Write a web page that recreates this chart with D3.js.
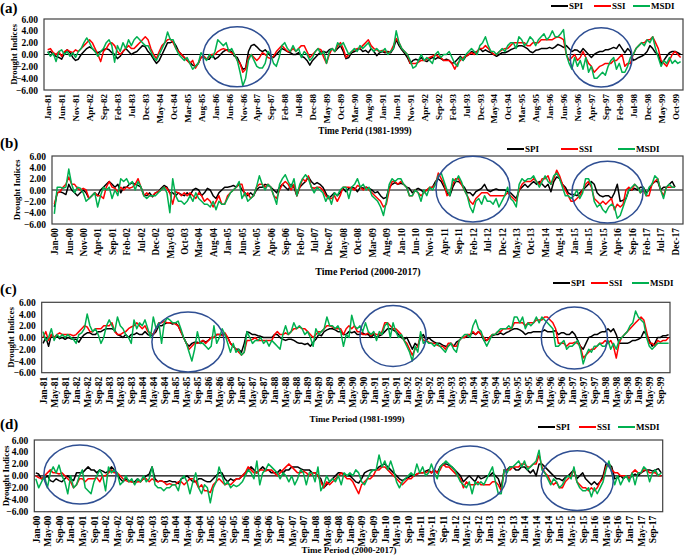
<!DOCTYPE html>
<html><head><meta charset="utf-8">
<script src="https://cdn.jsdelivr.net/npm/d3@7"></script>
<style>body{margin:0;background:#fff}svg{display:block;font-family:"Liberation Serif","Times New Roman",serif;font-weight:bold}</style>
</head><body><svg id="chart" width="685" height="556"></svg>
<script>
// ---------- categories ----------
const monthsAC = d3.timeMonths(new Date(1981,0,1), new Date(2000,0,1)); // Jan-81 .. Dec-99
const monthsBD = d3.timeMonths(new Date(2000,0,1), new Date(2018,0,1)); // Jan-00 .. Dec-17
const yTickValues = [6,4,2,0,-2,-4,-6];
const seriesNames = ["SPI","SSI","MSDI"];
const seriesColors = ["#000000","#ff0000","#00b050"];
const panelLabels = ["(a)","(b)","(c)","(d)"];
const axisTitles = ["Time Perid (1981-1999)","Time Period (2000-2017)","Time Period (1981-1999)","Time Period (2000-2017)"];

// ---------- panel (a) 1981-1999 ----------
const aSPI = [
0.3,0.5,0.0,-0.3,-0.5,-0.8,0.2,0.8,0.3,-0.5,-1.0,-0.8,
0.0,0.5,1.0,1.3,1.0,0.5,0.3,0.5,0.8,1.0,0.8,0.3,
0.0,-0.7,-0.3,0.5,1.0,0.5,0.0,0.3,0.5,1.0,1.5,1.3,
0.5,0.0,-0.8,-1.5,-1.0,0.0,1.0,2.0,2.0,2.2,1.5,0.5,
0.0,-0.5,-1.0,-1.3,-1.8,-2.0,-1.5,-0.5,-0.3,-0.8,-0.8,0.0,
-0.8,-0.5,0.0,0.5,0.8,0.8,0.5,-0.3,-0.5,-1.5,-2.5,-2.3,
0.5,1.5,1.7,1.3,0.8,0.5,0.8,0.3,-0.3,-0.5,0.0,0.5,
1.0,0.8,0.5,0.3,0.0,0.0,0.3,-0.3,-0.5,-1.0,-1.8,-1.0,
-0.5,0.0,0.5,0.5,0.3,0.8,1.0,0.5,1.0,1.5,0.5,-0.7,
-0.5,0.3,0.5,0.8,1.0,0.5,0.7,0.3,1.0,0.5,-0.2,0.3,
0.5,0.3,0.5,0.3,1.0,2.5,1.5,0.8,0.2,-0.5,-1.5,-1.0,
-0.8,-1.0,-0.5,-1.0,-1.2,-0.8,-0.5,-0.8,-0.5,-0.7,-1.0,-0.8,
-1.0,-1.5,-1.3,-0.8,-0.3,-1.0,-0.3,0.0,0.5,0.3,0.5,1.0,
0.5,0.8,0.5,0.3,0.0,-0.3,0.0,0.3,0.3,0.5,0.8,1.0,
1.2,1.5,1.5,1.3,1.0,0.5,0.3,0.7,0.8,1.0,1.0,1.0,
1.2,1.0,1.3,1.7,1.5,1.2,1.5,1.0,0.5,0.8,0.7,0.3,
1.0,0.5,0.0,-0.5,0.0,0.3,0.5,0.5,0.8,0.8,1.0,1.2,
1.0,1.7,1.0,0.3,1.0,0.5,-1.0,-0.8,-0.5,-0.3,0.0,0.5,
1.5,1.0,0.3,0.0,-1.5,-1.0,-0.3,0.3,0.5,0.5,0.3,0.0];
const aSSI = [
0.8,1.0,0.3,0.0,0.5,-0.3,0.5,0.8,0.5,0.3,0.8,0.5,
1.0,1.5,2.0,2.5,2.0,1.0,0.0,-1.2,0.5,1.0,1.8,2.0,
1.5,0.5,0.0,0.5,1.0,1.5,1.0,1.0,1.5,2.0,2.5,3.0,
2.5,1.0,0.0,-0.7,0.5,1.5,2.0,2.5,2.6,2.0,1.0,0.5,
0.0,-0.5,-1.0,-1.5,-1.0,-2.3,-1.5,-0.5,-0.3,-0.8,-0.3,0.0,
0.0,0.5,0.8,1.0,0.8,0.5,0.3,0.0,-1.0,-1.5,-3.0,-2.5,
-0.5,0.0,-0.5,-1.0,-0.5,0.3,0.0,-0.5,-0.7,-0.3,0.5,1.0,
1.5,1.0,0.5,0.5,1.0,0.5,1.0,1.5,1.5,0.5,-0.5,0.0,
0.5,1.0,0.8,-0.5,-1.5,0.0,1.0,0.5,1.5,2.0,1.0,-0.5,
0.0,0.5,0.8,1.0,1.0,1.5,2.0,2.5,1.5,1.0,0.8,0.5,
0.7,0.5,0.3,0.5,1.5,2.7,2.0,1.0,0.5,0.0,-1.5,-1.5,
-1.5,-1.3,-1.0,-1.0,-0.8,-0.5,-0.3,0.0,-0.3,-0.5,-1.0,-1.0,
-1.0,-1.5,-2.5,-1.5,-1.0,-0.5,-0.3,0.0,0.3,0.0,0.5,1.0,
1.0,1.5,1.0,0.5,0.0,0.0,0.5,0.8,1.0,1.0,1.5,2.0,
2.0,2.0,2.0,2.0,1.5,1.5,2.0,2.0,2.0,2.5,2.5,2.5,
2.5,2.5,2.8,3.0,2.8,2.5,0.0,-1.0,-0.5,0.0,-1.0,-0.5,
0.5,-0.5,-1.5,-2.0,-3.0,-2.5,-2.0,-1.8,-1.5,-1.5,-1.5,-1.0,
-1.0,-0.5,0.0,-2.0,-1.5,-1.5,0.0,1.0,1.5,2.0,2.0,2.5,
2.5,3.0,2.0,1.0,-1.0,-1.5,-2.0,-1.0,0.0,0.5,0.0,-0.5];
const aMSDI = [
0.5,-0.3,0.2,-1.2,0.5,0.8,0.0,0.5,-0.3,0.3,-0.5,0.5,
1.0,2.0,2.8,2.0,1.0,0.5,-0.3,0.5,1.0,2.0,2.5,1.5,
-1.3,1.5,0.5,2.0,1.0,2.5,1.5,2.5,3.0,2.5,2.0,1.5,
1.5,0.5,-0.5,-1.0,0.0,1.0,2.0,3.8,2.5,2.5,1.0,0.0,
-0.5,-1.0,-0.5,-1.5,-2.5,-2.0,-1.5,0.3,-0.5,-1.0,0.0,-0.5,
0.5,2.5,2.0,1.5,2.0,0.5,1.0,0.0,-1.0,-3.0,-5.3,-4.0,
-1.0,0.0,-1.0,-2.0,-2.3,-2.3,-1.5,0.5,0.0,-1.5,-2.0,-0.5,
1.5,2.0,1.0,0.5,1.5,0.5,1.0,-0.5,0.5,0.0,-1.0,-0.5,
0.5,1.0,0.0,0.5,-1.5,0.5,1.0,0.5,2.0,1.5,2.0,1.0,
0.0,0.5,1.0,0.5,1.5,1.0,1.5,2.0,1.0,0.5,1.0,0.5,
0.5,1.0,0.0,0.5,1.0,4.0,2.0,1.0,0.5,0.0,-1.0,-2.3,
-2.0,-1.0,0.0,-1.0,-0.5,-1.0,-1.5,0.0,0.5,-0.5,0.0,0.0,
0.5,-0.5,-1.5,-2.0,-0.5,-1.0,0.0,0.5,1.0,0.5,0.0,1.5,
2.0,3.0,1.5,0.5,0.5,0.0,0.5,1.0,0.5,1.5,2.0,2.0,
1.0,3.0,2.5,1.5,2.0,3.0,2.5,1.5,2.5,3.0,3.5,2.5,
3.0,4.0,3.0,3.0,3.5,4.2,0.0,-1.5,-2.5,-0.5,-2.0,-1.0,
-2.5,-0.5,-3.0,-2.0,-4.0,-4.0,-3.5,-3.0,-3.5,-2.0,-1.0,-0.5,
-2.5,-1.5,-3.0,-3.0,-2.0,-0.5,0.0,1.0,1.5,2.0,1.5,2.5,
2.0,3.0,1.0,-0.5,-2.0,-1.0,-1.5,-0.5,-1.5,-1.0,-1.5,-1.2];

// ---------- panel (b) 2000-2017 ----------
const bSPI = [
-3.0,-0.5,-0.3,-0.5,-0.8,1.0,0.0,-0.5,-1.0,-0.5,0.0,-0.5,
-1.5,-1.0,-0.5,-1.0,0.0,0.5,1.0,1.5,1.0,0.5,1.0,-0.5,
0.5,0.5,1.0,1.3,1.0,0.8,0.5,-0.8,-1.0,-0.5,-1.2,-0.5,
-0.3,0.3,0.8,0.5,-0.5,-0.5,-1.0,-0.5,-0.8,-1.0,-0.5,-1.0,
0.0,0.3,0.0,-1.0,-0.5,0.3,0.0,-1.0,-1.5,-0.5,0.0,0.5,
0.5,0.6,0.8,0.5,1.0,0.0,-0.5,-1.0,-0.5,-1.0,0.0,0.5,
0.5,1.0,0.8,0.5,0.0,-0.5,0.5,1.0,0.5,0.0,1.0,0.5,
-1.0,0.5,1.0,1.5,2.3,1.5,1.0,1.3,1.0,0.5,-0.5,-1.5,
-1.0,-0.5,-1.0,-0.5,0.3,-0.3,0.3,0.5,0.3,-0.3,0.5,0.3,
0.5,0.3,0.0,-0.5,-0.3,-1.0,-1.5,-1.3,0.5,1.0,1.3,1.0,
1.2,1.0,0.5,0.3,-0.5,0.0,0.3,0.0,-0.5,0.0,0.3,0.5,
1.5,2.0,1.5,0.5,-0.5,-1.0,0.5,1.5,1.5,1.0,0.5,-0.5,
-0.5,-1.0,-0.3,0.0,0.3,1.0,0.0,-0.3,0.0,0.2,0.0,0.0,
0.0,-0.3,-0.5,-1.0,-1.5,0.0,0.5,1.0,0.5,1.0,1.5,1.0,
1.5,1.0,0.5,1.0,-0.3,1.5,2.3,2.0,1.0,0.5,-0.5,-0.8,
-0.8,-1.0,-0.5,0.0,0.5,1.0,1.5,1.0,-0.5,-1.0,-1.2,-1.0,
-1.0,-1.5,-0.5,1.0,-2.0,-1.8,-1.5,0.0,0.0,0.3,0.0,0.5,
0.5,-0.5,0.0,1.0,1.5,1.5,0.0,0.5,0.5,1.0,1.5,0.5];
const bSSI = [
-2.5,-0.5,-0.3,0.5,1.0,2.3,1.0,1.0,0.3,0.0,0.3,0.0,
-1.5,-1.0,-0.5,-1.0,-1.0,-1.5,0.5,1.5,0.5,0.3,-0.3,0.5,
0.0,0.5,0.3,0.5,1.0,2.0,0.5,-1.0,-0.5,-1.0,-1.0,-0.5,
-0.3,0.0,0.5,0.3,-0.5,-2.5,-0.3,-0.5,-1.0,-0.5,-1.0,-0.5,
-1.0,-1.5,-0.5,-1.0,-2.0,-1.5,-2.0,-3.0,-2.0,-1.0,-2.5,-2.5,
-1.0,-0.5,0.0,0.5,1.0,1.0,-1.0,-0.5,-1.5,-1.0,0.5,1.0,
1.0,0.5,1.0,0.5,-1.0,-1.5,0.0,1.0,1.5,1.0,0.0,1.0,
-1.0,0.5,2.0,1.5,2.5,0.5,0.3,0.5,0.5,0.0,-1.0,-1.5,
-1.5,-1.0,-2.0,-1.0,0.5,0.5,0.5,0.3,0.0,0.8,0.5,0.0,
0.5,0.0,-0.5,-1.0,-1.5,-2.0,-3.0,-2.5,0.0,1.5,1.5,1.0,
1.5,1.0,0.5,-1.0,-1.0,0.0,-0.5,-1.0,-0.5,0.0,0.5,0.5,
1.0,3.0,2.0,1.0,-1.0,-0.5,1.0,2.0,2.0,1.0,0.0,-1.0,
-2.0,-2.5,-1.5,-1.0,-0.5,-0.5,-0.5,-1.0,-1.0,-1.0,-1.0,-1.0,
-1.0,-0.5,-1.0,-1.5,-2.0,0.0,1.0,1.5,1.5,1.5,2.0,1.5,
1.0,2.0,2.0,2.5,1.0,2.0,3.5,2.5,1.0,0.0,-1.0,-2.0,
-2.0,-1.5,-1.0,0.0,1.0,1.5,0.5,-1.5,-2.0,-2.5,-2.0,-2.5,
-2.0,-1.5,-3.5,-2.5,-3.0,-2.5,0.0,0.5,0.0,1.0,0.5,-0.5,
0.0,-1.0,-1.0,1.0,1.5,2.0,0.0,-1.0,0.5,0.5,0.5,0.5];
const bMSDI = [
-4.2,0.5,0.5,0.3,0.5,3.7,1.0,-0.5,0.5,0.3,-0.5,-2.0,
-1.5,-1.0,-0.5,-3.0,-1.0,0.5,0.0,0.5,-1.5,0.0,-1.0,2.0,
1.5,2.0,1.0,1.5,0.0,1.5,0.5,-1.0,-1.5,-1.0,-1.0,-1.0,
-0.5,0.0,0.5,-0.5,-4.0,2.0,-1.0,-2.0,-2.0,-2.5,-2.0,-1.0,
-2.0,-0.5,-1.5,-2.0,-2.5,-2.5,-3.0,-2.0,-3.5,-2.0,-2.5,-2.5,
-1.5,-0.5,0.0,0.5,1.5,-1.5,-0.5,-2.0,-1.5,-1.0,0.5,2.5,
1.0,0.0,1.0,0.5,-1.0,-2.5,1.0,2.0,2.7,1.5,0.5,2.0,
-1.0,1.0,2.0,2.7,2.0,0.5,-0.5,0.5,0.0,-0.5,-2.0,-1.0,
-2.5,-0.5,-1.0,0.0,0.5,0.5,-1.5,0.5,1.0,2.0,0.5,1.0,
0.0,0.5,-1.0,-1.5,-2.0,-3.0,-4.5,-2.0,1.0,2.0,1.5,2.0,
2.0,1.0,0.5,-1.0,-1.0,0.0,-0.5,-2.0,0.0,-1.0,0.5,0.0,
1.0,2.5,3.0,1.5,0.0,-1.0,2.0,1.5,2.5,1.5,0.0,-1.0,
-3.0,-4.0,-2.0,-1.5,-2.5,-1.0,-2.0,-2.0,-2.5,-1.5,-3.0,-2.0,
-1.0,0.5,-1.5,-2.0,-3.0,1.0,2.0,1.5,2.0,2.0,2.5,1.5,
0.5,1.5,2.5,1.5,1.0,2.5,3.0,2.0,0.5,-1.0,-1.0,-1.5,
-1.0,0.0,-1.5,-0.5,2.0,2.0,1.0,-2.0,-3.0,-2.5,-3.5,-4.0,
-3.0,-2.5,-3.0,-5.0,-4.5,-3.0,-1.5,0.0,0.5,1.0,0.5,-0.5,
0.5,-1.0,0.5,1.0,2.5,2.0,0.0,-1.5,0.5,1.0,0.5,0.5];

// ---------- panel (c) 1981-1999 ----------
const cSPI = [
-1.0,0.0,-1.5,0.5,0.0,0.3,-0.2,0.0,-0.3,0.0,-0.2,-0.3,
-0.3,-0.8,0.0,0.5,0.8,0.8,0.5,0.5,1.0,1.0,1.3,1.5,
1.5,1.5,1.2,0.5,0.3,0.0,0.5,0.0,0.5,0.5,0.8,0.5,
0.5,1.0,0.5,0.3,0.5,1.0,2.0,2.0,2.3,2.5,2.5,2.3,
2.5,2.0,1.0,0.0,-1.0,-1.5,-1.0,-0.8,-0.8,-1.0,-0.5,-0.8,
-0.5,0.0,0.0,0.5,0.5,0.5,0.5,0.0,-1.0,-1.5,-2.0,-2.0,
-2.5,-1.0,1.0,0.8,0.5,0.5,0.3,0.2,0.0,0.0,0.0,0.0,
0.5,0.5,0.0,-0.3,-0.5,-0.3,-0.3,-0.5,-0.8,-1.0,-1.0,-1.2,
-1.0,-1.5,-0.8,-0.3,0.5,0.3,1.0,1.3,1.5,1.5,1.3,1.0,
1.0,0.5,0.5,1.0,0.8,1.0,0.5,0.5,0.8,0.5,0.5,0.0,
0.5,0.0,0.3,0.5,1.0,1.5,1.5,1.3,1.0,0.5,0.0,-0.3,
0.0,-1.0,-2.0,-1.0,-1.5,0.0,0.5,-0.5,0.0,-0.5,-0.8,-1.0,
-1.0,-1.3,-1.5,-1.5,-1.0,-1.5,-0.8,-0.5,0.0,0.0,0.3,0.5,
0.8,0.5,1.0,0.5,-0.5,-0.5,0.0,0.3,0.5,0.5,0.8,0.5,
0.8,1.0,1.3,1.5,1.5,1.3,1.0,0.5,0.8,0.8,1.0,1.0,
1.0,1.0,1.3,1.0,1.0,1.0,1.2,0.5,0.8,0.8,0.5,0.5,
1.0,0.5,-0.5,-1.5,-2.0,-1.0,0.0,0.2,0.5,0.5,0.8,1.0,
1.0,1.5,1.0,1.5,0.5,-1.0,-1.0,-1.0,-1.0,-0.8,-0.5,-0.5,
-0.3,0.0,1.0,0.5,-0.5,-1.5,-1.0,0.0,0.0,0.3,0.3,0.5];
const cSSI = [
0.0,1.0,-0.5,0.5,0.0,0.5,0.8,0.5,0.5,0.5,0.5,0.3,
0.5,1.0,1.5,2.0,1.8,1.0,1.0,1.5,1.5,1.5,2.0,2.0,
2.0,2.5,1.0,0.5,0.5,0.8,1.0,1.5,1.8,2.0,2.5,2.0,
1.5,2.0,1.0,0.8,0.5,1.5,2.5,2.5,2.8,2.5,2.5,2.5,
2.3,2.0,1.0,0.0,-1.0,-2.0,-1.5,-1.0,-1.0,-0.8,-0.5,-1.0,
-0.5,0.0,0.0,0.5,0.5,0.3,0.8,0.0,-1.0,-1.5,-2.0,-2.5,
-3.0,-2.5,-0.5,-0.5,-0.3,0.0,-0.5,-0.5,-0.5,-0.5,-0.5,-0.5,
0.5,1.0,0.5,0.5,0.8,0.5,1.0,1.5,1.5,1.8,1.5,1.5,
1.0,0.5,0.0,0.5,1.0,1.0,1.5,2.0,2.0,1.8,1.5,1.5,
1.5,0.5,1.5,2.0,1.5,2.0,1.0,1.0,0.5,0.5,0.8,0.3,
0.8,0.5,0.5,1.0,2.5,2.5,2.0,1.5,1.5,1.0,0.5,-0.5,
-1.0,-2.0,-3.0,-2.0,-1.5,0.5,-0.5,-0.5,-0.8,-1.0,-1.0,-1.3,
-1.5,-1.5,-2.0,-1.0,-1.0,-1.5,-1.5,-0.5,0.0,0.0,0.5,0.5,
1.0,0.5,1.0,0.5,0.0,-0.5,0.0,0.5,0.5,1.0,1.0,1.5,
1.5,1.5,1.5,2.5,2.5,2.5,2.5,2.0,2.5,2.5,2.5,3.0,
3.0,3.0,3.5,3.5,3.0,2.5,1.5,-1.0,-1.0,-1.0,-1.5,-1.0,
-1.0,-0.8,-1.0,-1.5,-3.5,-3.0,-2.5,-2.0,-2.0,-1.5,-1.0,-1.0,
-0.5,-1.0,-0.5,-1.5,-3.5,-1.0,0.0,0.5,1.0,1.5,2.0,2.5,
3.0,3.5,3.0,1.0,-1.0,-1.0,-1.5,-0.5,-0.8,-0.5,-0.5,0.0];
const cMSDI = [
1.0,-0.5,0.0,1.5,-0.5,0.5,0.0,0.5,0.0,0.5,0.0,-0.3,
-1.0,0.5,0.8,1.5,4.0,2.0,1.0,1.5,0.5,-1.0,0.0,2.0,
3.0,2.0,1.0,3.5,2.0,1.5,0.5,0.0,-1.0,3.0,1.5,2.5,
2.0,3.0,1.5,0.0,3.5,1.5,2.5,-1.0,2.5,3.3,3.0,2.5,
2.5,2.8,1.5,0.0,-1.0,-2.5,-4.0,-2.0,1.0,-1.0,-1.0,-1.5,
-2.0,-1.5,2.0,-1.0,0.0,1.5,0.5,-1.0,-2.5,-1.0,-2.5,-2.0,
-3.0,-2.5,1.0,0.0,-1.0,-0.5,-0.5,0.0,-1.0,-0.5,-1.5,-0.5,
-1.0,-1.5,-2.0,0.5,2.0,0.5,1.0,2.5,1.5,2.0,1.5,0.5,
1.0,0.0,-1.5,1.5,0.5,1.0,1.5,3.5,2.0,2.0,1.5,2.0,
1.0,-1.5,0.5,0.0,3.8,2.0,1.5,2.0,1.0,2.5,1.0,0.5,
1.0,-0.5,1.0,0.5,2.0,2.5,0.0,2.5,1.0,0.0,0.5,-0.5,
-1.5,-2.5,-4.0,-1.5,-2.5,1.0,-1.0,-0.5,-1.0,-1.0,-1.5,-1.0,
-1.5,-2.0,-2.5,-1.5,-1.0,-2.0,-2.5,-0.5,0.0,0.5,0.5,0.0,
2.0,3.0,1.5,1.0,-0.5,-1.5,-0.5,0.5,0.5,1.0,1.5,1.5,
1.5,2.0,1.5,3.5,3.5,2.5,3.5,1.5,2.5,2.0,2.5,3.5,
2.5,3.5,3.0,2.5,2.0,1.5,-1.5,-1.5,-1.0,-0.5,-2.0,-1.5,
-1.5,-1.0,-0.5,-2.0,-4.5,-3.0,-2.0,-2.5,-1.5,-1.5,-1.0,-1.5,
-1.5,-0.5,-2.0,-1.0,-2.0,-0.5,0.0,0.5,1.0,2.0,2.5,4.5,
3.5,3.0,2.5,0.0,-1.5,-2.0,-1.5,-1.0,-1.0,-1.0,-1.0,-1.0];

// ---------- panel (d) 2000-2017 ----------
const dSPI = [
0.5,0.3,-0.5,-0.5,0.0,-0.8,-1.0,-0.5,-0.8,-1.0,-0.5,0.0,
-0.5,-0.8,0.5,0.5,0.5,1.0,1.5,1.0,1.0,0.5,1.0,0.8,
0.5,0.8,1.5,1.0,0.3,-0.5,-1.0,-0.5,-0.8,-1.0,-1.0,-0.5,
-1.0,-0.5,0.0,0.3,1.5,-0.5,-1.0,-0.8,-1.0,-1.0,-0.8,-1.0,
-1.0,-1.3,-0.5,-0.3,0.0,-0.5,-1.0,-1.0,-0.5,-0.5,-0.8,-1.0,
-1.0,-0.5,0.0,0.5,0.5,-0.5,-1.0,-0.5,-0.8,-0.5,-0.5,0.0,
0.5,1.0,1.5,1.0,0.5,1.0,1.5,1.0,1.0,0.5,0.5,0.5,
1.0,0.5,1.0,1.0,1.5,1.5,1.5,1.2,1.0,1.0,1.0,0.5,
0.5,0.0,-0.5,-2.0,-1.5,-1.0,-0.5,0.0,0.5,0.5,0.3,0.0,
0.0,-0.5,-1.0,-1.2,-0.5,0.5,0.8,1.0,1.0,1.0,1.5,1.8,
2.0,1.5,1.0,0.5,0.0,-0.5,-0.8,-0.5,-0.3,0.0,0.0,0.3,
0.5,0.5,0.8,1.0,0.5,1.0,0.5,1.5,2.0,2.0,1.8,1.5,
1.0,0.5,0.0,-1.0,-0.5,0.0,-0.5,-1.0,0.0,-0.5,-0.3,0.0,
0.0,0.5,0.0,-0.5,-2.0,1.0,1.0,1.5,1.5,1.0,1.0,1.5,
1.5,1.0,0.5,1.0,0.0,2.0,2.0,1.5,1.0,0.5,0.0,-0.5,
-0.5,-0.8,-0.3,0.0,0.5,1.0,-0.5,0.0,0.5,-0.5,-1.0,-1.5,
-1.0,-1.5,-1.0,0.0,2.0,2.0,1.5,-0.5,-0.3,0.0,-0.5,0.0,
-0.5,0.0,0.3,0.0,0.5,0.8,1.0,1.0,0.8,1.0,1.2,0.5];
const dSSI = [
0.0,-0.3,-0.5,0.0,0.5,1.0,0.5,0.5,0.3,0.5,0.0,-0.5,
-1.0,-2.0,-1.5,-0.5,-0.5,-1.0,-0.5,-0.5,-0.5,-0.3,-1.0,0.0,
0.0,0.5,1.0,0.5,0.5,0.0,-0.5,-0.8,-1.0,-1.0,-1.2,-1.0,
-1.0,-0.5,-0.5,-1.0,-0.5,-0.8,-1.0,-0.8,-1.0,-1.5,-1.3,-1.5,
-1.5,-1.0,-1.0,-1.5,-1.0,-0.5,-0.5,-1.0,-2.0,-1.5,-2.5,-2.5,
-2.8,-1.5,-1.0,-0.5,-1.0,-1.5,-1.3,-1.5,-1.0,-0.5,-0.5,0.0,
0.5,1.5,1.0,0.5,0.5,1.0,1.0,0.8,1.0,1.0,0.5,0.0,
0.5,1.0,1.5,2.0,1.5,1.0,0.5,0.5,0.8,0.5,0.0,0.5,
0.5,0.0,-1.0,-2.0,-1.0,-1.5,-1.0,-0.5,0.0,0.5,0.0,-0.5,
-0.5,-1.0,-2.0,-3.0,-1.5,-1.0,-0.5,-0.5,0.0,1.0,1.0,1.5,
1.5,1.0,0.5,0.0,-0.5,-1.0,-1.5,-1.0,-0.5,-0.5,0.0,0.3,
0.5,0.5,0.5,0.8,0.5,1.0,0.5,1.0,2.0,1.5,1.5,1.0,
0.5,0.0,-0.5,-2.0,-1.0,-1.5,-1.5,-1.5,-1.0,-1.5,-1.5,-1.5,
-1.5,-1.0,-1.0,-1.5,-2.5,1.0,1.0,1.0,1.5,1.5,1.5,2.0,
2.0,1.5,1.5,2.0,2.0,3.5,1.5,0.5,0.0,-1.0,-1.5,-1.0,
-2.0,-2.0,-1.0,-0.5,0.0,1.0,-1.0,-1.5,-2.0,-2.0,-2.5,-2.0,
-2.5,-2.0,-1.0,-0.5,1.5,2.0,1.0,0.5,0.5,0.0,0.0,0.0,
-0.5,0.5,1.0,0.5,0.5,1.0,1.0,0.5,0.5,0.5,0.0,0.0];
const dMSDI = [
-0.5,-2.0,-1.0,0.0,-2.0,0.5,1.5,0.5,1.8,0.0,-1.0,-3.0,
0.0,-2.0,-1.5,0.0,1.0,-2.0,-2.5,-3.0,-1.0,0.0,1.0,0.0,
-2.5,1.5,0.5,1.0,0.5,-1.5,-1.0,0.0,-1.0,-0.5,-1.5,-0.5,
-1.0,0.0,-1.0,-0.5,1.5,-1.5,-2.0,-2.0,-2.5,-2.0,-2.0,-1.5,
-1.5,-2.5,-0.5,0.0,-1.0,-3.0,-1.0,0.5,-2.0,-3.0,-1.5,-2.0,
-4.5,-2.0,-1.0,1.5,0.0,-1.5,-1.0,-2.0,-1.5,-1.8,-1.5,-1.0,
0.0,1.0,0.5,-0.5,2.5,-1.5,0.5,1.0,2.0,1.5,1.0,0.5,
-0.5,0.5,0.0,-1.0,0.0,-1.5,-0.5,1.0,0.5,-1.5,0.5,0.5,
-1.0,1.5,-2.5,-1.5,0.0,-1.0,-0.5,-1.0,0.0,-1.5,0.5,0.0,
0.5,0.0,1.0,0.5,-1.0,-1.5,-0.5,0.5,1.0,1.0,3.5,1.5,
2.5,1.0,2.5,1.0,-1.0,-2.0,-1.0,-0.5,0.0,0.5,0.0,2.0,
0.5,1.5,0.0,0.5,2.0,0.5,-0.5,1.5,2.0,2.5,2.0,1.5,
1.0,0.0,-1.0,-1.5,-2.0,-1.0,-3.0,-1.0,-1.5,-1.0,-1.5,-0.5,
0.5,1.5,-1.0,-3.0,-3.0,1.0,0.5,1.5,1.5,2.0,2.5,1.5,
2.5,1.0,1.5,2.0,2.5,4.3,1.0,0.5,-0.5,-1.5,-0.5,-1.0,
-2.0,-1.5,-0.5,0.0,-0.5,1.5,-1.0,-2.0,-2.5,-2.5,-2.0,-3.5,
-2.0,-3.0,-2.0,-1.0,1.0,2.5,0.5,-1.5,0.0,-1.5,-0.5,0.0,
-1.0,0.5,-1.5,0.5,0.5,1.5,1.0,-1.0,0.5,1.0,0.0,0.5];

// ellipse annotations in data units: [centre month index, centre value, radius in months, radius in index units]
const aEllipses = [[67.9,-0.4,12.2,5.07],[198.5,-0.5,11.1,5.0]];
const bEllipses = [[145,0.15,12.8,5.8],[191.6,-0.38,12.3,5.45]];
const cEllipses = [[52.6,-0.77,13.1,5.1],[127,0.26,12.0,5.2],[192.8,-0.09,12.0,5.3]];
const dEllipses = [[15.2,0.23,12.4,4.94],[149.3,0.06,12.5,4.94],[186.1,-0.81,12.4,5.0]];

// ---------- layout ----------
const panels = [
 {months:monthsAC, data:[aSPI,aSSI,aMSDI], every:5, ell:aEllipses, xr:[46.3,682],
  box:[44,683,19,90], lab:[0,13], title:[365,134], yTitleX:14, legY:6, legX:[551,594,633], fs:9.3, xfs:9},
 {months:monthsBD, data:[bSPI,bSSI,bMSDI], every:5, ell:bEllipses, xr:[52.9,676.5],
  box:[52,683,156,224], lab:[0,148], title:[368,275], yTitleX:17, legY:149, legX:[507,561,618], fs:10, xfs:9.3},
 {months:monthsAC, data:[cSPI,cSSI,cMSDI], every:4, ell:cEllipses, xr:[41.7,670],
  box:[41.7,670,302.3,372.7], lab:[0,294], title:[357,422], yTitleX:11, legY:283, legX:[553,591,632], fs:9, xfs:9.5},
 {months:monthsBD, data:[dSPI,dSSI,dMSDI], every:4, ell:dEllipses, xr:[34.3,662.7],
  box:[34.3,662.7,440,511.7], lab:[0,429], title:[349,553], yTitleX:6, legY:427, legX:[538,579,618], fs:9, xfs:9.5}
];

const svg = d3.select("#chart");
const fmt = d3.timeFormat("%b-%y");

panels.forEach((p, pi) => {
  const [x0,x1,y0,y1] = p.box;
  const idx = d3.range(p.months.length);
  const x = d3.scalePoint().domain(idx).range(p.xr).padding(0.5);
  const y = d3.scaleLinear().domain([-6,6]).range([y1,y0]);
  const g = svg.append("g");

  // y axis labels
  const yAxis = d3.axisLeft(y).tickValues(yTickValues).tickFormat(d3.format(".2f")).tickSize(0).tickPadding(6);
  const ya = g.append("g").attr("transform",`translate(${x0},0)`).call(yAxis);
  ya.select(".domain").remove();
  ya.selectAll("text").attr("font-size",9.5).attr("font-family","Liberation Serif").attr("font-weight","bold").attr("fill","#000");

  // x axis labels
  const tickIdx = idx.filter(i => i % p.every === 0);
  const xAxis = d3.axisBottom(x).tickValues(tickIdx).tickFormat(i => fmt(p.months[i])).tickSize(0).tickPadding(0);
  const xa = g.append("g").attr("transform",`translate(0,${y1})`).call(xAxis);
  xa.select(".domain").remove();
  xa.selectAll("text").attr("font-size",p.xfs).attr("font-family","Liberation Serif").attr("font-weight","bold").attr("fill","#000")
    .attr("transform","rotate(-90)").attr("text-anchor","end").attr("dy","0.35em").attr("x",-4).attr("y",0);

  // zero line
  g.append("line").attr("x1",x0).attr("x2",x1).attr("y1",y(0)).attr("y2",y(0)).attr("stroke","#000").attr("stroke-width",1.2);

  // series
  const line = d3.line().x((d,i)=>x(i)).y(d=>y(d));
  p.data.forEach((s, si) => {
    g.append("path").datum(s).attr("d",line).attr("fill","none")
      .attr("stroke",seriesColors[si]).attr("stroke-width",1.5).attr("stroke-linejoin","round");
  });

  // frame
  g.append("rect").attr("x",x0).attr("y",y0).attr("width",x1-x0).attr("height",y1-y0)
    .attr("fill","none").attr("stroke","#404040").attr("stroke-width",1.2);

  // ellipses
  const step = x.step();
  p.ell.forEach(e => {
    g.append("ellipse").attr("cx",x(0)+e[0]*step).attr("cy",y(e[1]))
      .attr("rx",e[2]*step).attr("ry",Math.abs(y(e[3])-y(0)))
      .attr("fill","none").attr("stroke","#2f4f93").attr("stroke-width",1.5);
  });

  // panel label
  g.append("text").attr("x",p.lab[0]).attr("y",p.lab[1]).attr("font-size",15).attr("font-weight","bold").text(panelLabels[pi]);

  // y title
  g.append("text").attr("transform",`translate(${p.yTitleX},${(y0+y1)/2}) rotate(-90)`).attr("text-anchor","middle")
    .attr("dy","0.35em").attr("font-size",8.8).attr("font-weight","bold").text("Drought Indices");

  // x title
  g.append("text").attr("x",p.title[0]).attr("y",p.title[1]).attr("text-anchor","middle")
    .attr("font-size",p.fs).attr("font-weight","bold").text(axisTitles[pi]);

  // legend
  seriesNames.forEach((n, si) => {
    const lx = p.legX[si];
    g.append("line").attr("x1",lx).attr("x2",lx+17).attr("y1",p.legY).attr("y2",p.legY)
      .attr("stroke",seriesColors[si]).attr("stroke-width",2);
    g.append("text").attr("x",lx+18).attr("y",p.legY).attr("dy","0.35em").attr("font-size",9).attr("font-weight","bold").text(n);
  });
});
</script></body></html>
